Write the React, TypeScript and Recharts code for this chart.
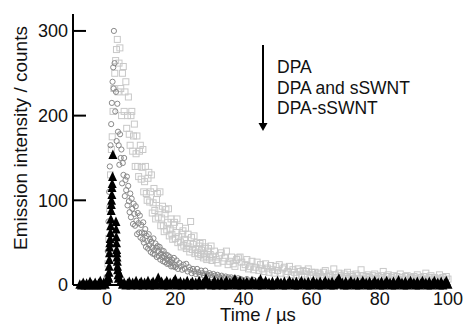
import React from "react";
import { ScatterChart, Scatter, XAxis, YAxis } from "recharts";

// DPA (light grey open squares)
const dpaTime = [
  0, 0.25, 0.5, 0.75, 1, 1.25, 1.5, 1.75, 2, 2.25, 2.5, 2.75,
  3, 3.25, 3.5, 3.75, 4, 4.25, 4.5, 4.75, 5, 5.25, 5.5, 5.75, 6, 6.25, 6.5, 6.75, 7, 7.25, 7.5, 7.75,
  8, 8.25, 8.5, 8.75, 9, 9.25, 9.5, 9.75, 10, 10.25, 10.5, 10.75, 11, 11.25, 11.5, 11.75,
  12, 12.25, 12.5, 12.75, 13, 13.25, 13.5, 13.75, 14, 14.25, 14.5, 14.75, 15, 15.25, 15.5, 15.75,
  16, 16.25, 16.5, 16.75, 17, 17.25, 17.5, 17.75, 18, 18.25, 18.5, 18.75, 19, 19.25, 19.5, 19.75,
  20, 20.25, 20.5, 20.75, 21, 21.25, 21.5, 21.75, 22, 22.25, 22.5, 22.75, 23, 23.25, 23.5, 23.75,
  24, 24.25, 24.5, 24.75, 25, 25.25, 25.5, 25.75, 26, 26.25, 26.5, 26.75, 27, 27.25, 27.5, 27.75,
  28, 28.25, 28.5, 28.75, 29, 29.25, 29.5, 29.75, 30, 30.25, 30.5, 30.75, 31, 31.5, 32, 32.5,
  33, 33.5, 34, 34.5, 35, 35.5, 36, 36.5, 37, 37.5, 38, 38.5, 39, 39.5, 40,
  40.5, 41, 41.5, 42, 42.5, 43, 43.5, 44, 44.5, 45, 45.5, 46, 46.5, 47, 47.5, 48, 48.5, 49, 49.5, 50,
  50.5, 51, 51.5, 52, 52.5, 53, 53.5, 54, 54.5, 55, 55.5, 56, 56.5, 57, 57.5, 58, 58.5, 59, 59.5, 60,
  60.5, 61, 61.5, 62, 62.5, 63, 63.5, 64, 64.5, 65, 65.5, 66, 66.5, 67, 67.5, 68, 68.5, 69, 69.5, 70,
  70.5, 71, 71.5, 72, 72.5, 73, 73.5, 74, 74.5, 75, 75.5, 76, 76.5, 77, 77.5, 78, 78.5, 79, 79.5, 80,
  80.5, 81, 81.5, 82, 82.5, 83, 83.5, 84, 84.5, 85, 85.5, 86, 86.5, 87, 87.5, 88, 88.5, 89, 89.5, 90,
  90.5, 91, 91.5, 92, 92.5, 93, 93.5, 94, 94.5, 95, 95.5, 96, 96.5, 97, 97.5, 98, 98.5, 99, 99.5, 100,
];
const dpaCounts = [
  8, 25, 55, 90, 130, 160, 175, 205, 232, 250, 265, 278,
  290, 228, 262, 280, 232, 200, 250, 258, 205, 228, 240, 185, 200, 222, 178, 165, 200, 205, 158, 176,
  190, 140, 155, 176, 140, 128, 158, 165, 125, 139, 160, 110, 122, 140, 108, 100,
  126, 133, 98, 110, 130, 85, 97, 114, 88, 78, 101, 108, 80, 90, 110, 70,
  79, 93, 70, 63, 84, 89, 65, 74, 90, 58, 66, 78, 60, 54, 71, 74,
  55, 62, 78, 50, 57, 69, 51, 45, 60, 64, 47, 54, 67, 43, 49, 60,
  45, 39, 75, 56, 42, 48, 58, 37, 42, 50, 38, 34, 46, 49, 36, 41,
  50, 32, 37, 45, 34, 30, 40, 43, 32, 36, 46, 29, 34, 40, 30, 26,
  35, 38, 28, 32, 40, 24, 28, 33, 25, 22, 30, 32, 33, 27, 21,
  24, 30, 19, 22, 28, 18, 21, 27, 17, 24, 19, 16, 25, 20, 15, 23, 18, 14, 22, 17,
  24, 14, 19, 21, 13, 16, 22, 12, 18, 15, 12, 19, 16, 11, 17, 13, 16, 19, 11, 15,
  12, 15, 10, 14, 12, 9, 15, 17, 10, 13, 11, 9, 19, 12, 9, 14, 11, 8, 13, 10,
  15, 8, 12, 10, 7, 13, 11, 8, 18, 11, 7, 10, 12, 9, 7, 11, 13, 8, 10, 7,
  11, 16, 7, 10, 12, 6, 9, 11, 7, 10, 6, 13, 9, 7, 10, 11, 6, 9, 8, 10,
  8, 12, 6, 9, 7, 10, 14, 6, 9, 11, 7, 9, 6, 8, 12, 7, 9, 6, 10, 7,
];

// DPA and sSWNT (grey open circles)
const mixTime = [
  0, 0.2, 0.4, 0.6, 0.8, 1, 1.2, 1.4, 1.6, 1.8, 1.9, 2,
  2.2, 2.4, 2.6, 2.8, 3, 3.2, 3.4, 3.6, 3.8, 4, 4.2, 4.4, 4.6, 4.8, 5, 5.2, 5.4, 5.6, 5.8,
  6, 6.2, 6.4, 6.6, 6.8, 7, 7.2, 7.4, 7.6, 7.8, 8, 8.2, 8.4, 8.6, 8.8, 9, 9.2, 9.4, 9.6, 9.8,
  10, 10.2, 10.4, 10.6, 10.8, 11, 11.2, 11.4, 11.6, 11.8, 12, 12.2, 12.4, 12.6, 12.8,
  13, 13.2, 13.4, 13.6, 13.8, 14, 14.2, 14.4, 14.6, 14.8, 15, 15.2, 15.4, 15.6, 15.8,
  16, 16.2, 16.4, 16.6, 16.8, 17, 17.2, 17.4, 17.6, 17.8, 18, 18.2, 18.4, 18.6, 18.8,
  19, 19.2, 19.4, 19.6, 19.8, 20, 20.4, 20.8, 21.2, 21.6, 22, 22.4, 22.8, 23.2, 23.6,
  24, 24.4, 24.8, 25.2, 25.6, 26, 26.4, 26.8, 27.2, 27.6, 28, 28.4, 28.8, 29.2, 29.6,
  30, 30.4, 30.8, 31.2, 31.6, 32, 32.4, 32.8, 33.2, 33.6, 34, 34.4, 34.8, 35.2, 35.6,
  36, 36.4, 36.8, 37.2, 37.6, 38, 38.4, 38.8, 39.2, 39.6, 40, 41, 42, 43, 44, 45,
];
const mixCounts = [
  10, 40, 75, 110, 140, 165, 190, 215, 240, 257, 232, 300,
  262, 205, 228, 170, 214, 181, 165, 142, 178, 150, 160, 120, 144, 130, 150, 105, 124, 112, 128,
  94, 117, 99, 86, 108, 80, 102, 90, 72, 96, 84, 70, 93, 76, 60, 85, 73, 62, 82, 56,
  71, 62, 54, 74, 50, 61, 66, 45, 58, 52, 43, 60, 47, 54, 39,
  51, 44, 37, 55, 41, 36, 49, 44, 33, 46, 40, 34, 45, 30, 37,
  41, 33, 28, 40, 34, 27, 36, 31, 25, 35, 29, 25, 33, 27, 22,
  30, 26, 22, 32, 24, 21, 29, 19, 26, 22, 18, 24, 19, 25, 16,
  21, 18, 14, 19, 16, 13, 19, 15, 12, 17, 14, 11, 17, 13, 11,
  14, 12, 9, 13, 11, 9, 12, 10, 8, 11, 9, 8, 10, 7, 9,
  7, 9, 6, 8, 7, 6, 8, 5, 7, 6, 5, 7, 5, 6, 4, 5,
];

// DPA-sSWNT (black filled triangles)
const covTime = [
  -8, -7.5, -7, -6.5, -6, -5.5, -5, -4.5, -4, -3.5, -3, -2.5, -2, -1.5, -1, -0.5, 0, 0.3,
  0.5, 0.55, 0.6, 0.65, 0.7, 0.75, 0.8, 0.9, 1, 1.05, 1.1, 1.2, 1.25, 1.3, 1.4, 1.45, 1.5, 1.6, 1.7,
  2.6, 2.65, 2.7, 2.75, 2.8, 2.85, 2.9, 3, 3.05, 3.1, 3.2, 3.3,
  3.6, 4, 4.5, 5, 5.5, 6, 6.5, 7, 7.5, 8, 8.5, 9, 9.5, 10, 10.5, 11, 11.5, 12, 12.5, 13, 13.5,
  14, 14.5, 15, 15.5, 16, 16.5, 17, 17.5, 18, 18.5, 19, 19.5, 20, 20.5, 21, 21.5, 22, 22.5, 23, 23.5,
  24, 24.5, 25, 25.5, 26, 26.5, 27, 27.5, 28, 28.5, 29, 29.5, 30, 30.5, 31, 31.5, 32, 32.5, 33, 33.5,
  34, 34.5, 35, 35.5, 36, 36.5, 37, 37.5, 38, 38.5, 39, 39.5, 40, 40.5, 41, 41.5, 42, 42.5, 43, 43.5,
  44, 44.5, 45, 45.5, 46, 46.5, 47, 47.5, 48, 48.5, 49, 49.5, 50, 50.5, 51, 51.5, 52, 52.5, 53, 53.5,
  54, 54.5, 55, 55.5, 56, 56.5, 57, 57.5, 58, 58.5, 59, 59.5, 60, 60.5, 61, 61.5, 62, 62.5, 63, 63.5,
  64, 64.5, 65, 65.5, 66, 66.5, 67, 67.5, 68, 68.5, 69, 69.5, 70, 70.5, 71, 71.5, 72, 72.5, 73, 73.5,
  74, 74.5, 75, 75.5, 76, 76.5, 77, 77.5, 78, 78.5, 79, 79.5, 80, 80.5, 81, 81.5, 82, 82.5, 83, 83.5,
  84, 84.5, 85, 85.5, 86, 86.5, 87, 87.5, 88, 88.5, 89, 89.5, 90, 90.5, 91, 91.5, 92, 92.5, 93, 93.5,
  94, 94.5, 95, 95.5, 96, 96.5, 97, 97.5, 98, 98.5, 99, 99.5, 100,
];
const covCounts = [
  1, 0, 3, 0, 2, 0, 4, 1, 0, 3, 0, 2, 5, 0, 3, 1, 6, 10,
  8, 15, 22, 30, 38, 45, 50, 55, 62, 70, 78, 88, 95, 100, 107, 115, 120, 128, 154,
  75, 66, 57, 50, 42, 38, 33, 28, 22, 18, 12, 8,
  14, 5, 1, 3, 0, 2, 4, 0, 3, 1, 5, 0, 2, 4, 0, 3, 1, 5, 0, 2, 4,
  0, 3, 9, 1, 4, 0, 2, 5, 0, 3, 1, 4, 7, 0, 2, 4, 0, 3, 1, 5,
  0, 2, 4, 0, 3, 1, 5, 0, 2, 4, 8, 1, 3, 0, 2, 5, 0, 3, 1, 4,
  0, 2, 5, 0, 3, 1, 4, 7, 0, 2, 5, 0, 3, 1, 4, 0, 2, 5, 1, 3,
  0, 4, 7, 0, 2, 5, 1, 3, 0, 4, 0, 2, 5, 1, 3, 0, 4, 0, 2, 5,
  1, 3, 0, 4, 0, 2, 5, 1, 3, 0, 4, 0, 2, 5, 1, 3, 0, 4, 0, 2,
  5, 1, 3, 0, 4, 0, 2, 5, 8, 1, 3, 0, 4, 0, 2, 5, 1, 3, 0, 4,
  0, 2, 5, 1, 3, 0, 4, 0, 2, 5, 1, 3, 0, 4, 0, 2, 5, 1, 3, 0,
  4, 0, 2, 6, 1, 3, 0, 4, 0, 2, 5, 1, 3, 0, 4, 0, 2, 5, 1, 3,
  0, 4, 0, 2, 5, 1, 3, 0, 4, 0, 2, 5, 1,
];

const xTicks = [0, 20, 40, 60, 80, 100];
const yTicks = [0, 100, 200, 300];
const legendLabels = ["DPA", "DPA and sSWNT", "DPA-sSWNT"];
const xTitle = "Time / µs";
const yTitle = "Emission intensity / counts";

const zip = (t: number[], v: number[]) => t.map((x, i) => ({ t: x, v: v[i] }));
const dpaData = zip(dpaTime, dpaCounts);
const mixData = zip(mixTime, mixCounts);
const covData = zip(covTime, covCounts);

const FONT = "'Liberation Sans', Arial, Helvetica, sans-serif";

const SquareShape = (p: any) => (
  <rect x={p.cx - 3} y={p.cy - 3} width={6} height={6} fill="none" stroke="#c8c8c8" strokeWidth={1} />
);
const CircleShape = (p: any) => (
  <circle cx={p.cx} cy={p.cy} r={2.6} fill="none" stroke="#8a8a8a" strokeWidth={1} />
);
const TriangleShape = (p: any) => (
  <path d={`M${p.cx},${p.cy - 5} L${p.cx + 4.5},${p.cy + 4.5} L${p.cx - 4.5},${p.cy + 4.5} Z`} fill="#000" />
);

const YTick = (p: any) => (
  <g>
    <line x1={p.x + 5} x2={p.x + 18} y1={p.y} y2={p.y} stroke="#000" strokeWidth={2} />
    <text x={p.x} y={p.y} dy="0.36em" textAnchor="end" fontSize={18} fontFamily={FONT} fill="#111">
      {p.payload.value}
    </text>
  </g>
);
const XTick = (p: any) => (
  <text x={p.x} y={p.y + 20} textAnchor="middle" fontSize={18} fontFamily={FONT} fill="#111">
    {p.payload.value}
  </text>
);

export default function App() {
  return (
    <div style={{ position: "absolute", left: 0, top: 0, width: 467, height: 324, background: "#fff" }}>
      <ScatterChart width={467} height={324} margin={{ top: 14, right: 19, bottom: 0, left: 0 }}>
        <XAxis
          type="number"
          dataKey="t"
          domain={[-10, 100]}
          ticks={xTicks}
          tick={XTick}
          tickLine={false}
          tickSize={0}
          tickMargin={0}
          height={39}
          axisLine={{ stroke: "#000", strokeWidth: 2 }}
        />
        <YAxis
          type="number"
          dataKey="v"
          domain={[0, 320]}
          ticks={yTicks}
          tick={YTick}
          tickLine={false}
          tickSize={0}
          tickMargin={5}
          width={73}
          axisLine={{ stroke: "#000", strokeWidth: 2 }}
        />
        <Scatter data={dpaData} shape={SquareShape} isAnimationActive={false} />
        <Scatter data={mixData} shape={CircleShape} isAnimationActive={false} />
        <Scatter data={covData} shape={TriangleShape} isAnimationActive={false} />
      </ScatterChart>
      <svg width={467} height={324} style={{ position: "absolute", left: 0, top: 0, pointerEvents: "none" }}>
        <text
          transform="translate(27,138) rotate(-90)"
          textAnchor="middle"
          fontSize={19}
          fontFamily={FONT}
          fill="#111"
        >
          {yTitle}
        </text>
        <text x={258} y={321} textAnchor="middle" fontSize={18.5} fontFamily={FONT} fill="#111">
          {xTitle}
        </text>
        <line x1={263} y1={45} x2={263} y2={125} stroke="#000" strokeWidth={2} />
        <path d="M258.5,123 L267.5,123 L263,131 Z" fill="#000" />
        {legendLabels.map((s, i) => (
          <text key={s} x={277} y={73 + i * 20.5} fontSize={17.5} fontFamily={FONT} fill="#111">
            {s}
          </text>
        ))}
      </svg>
    </div>
  );
}
